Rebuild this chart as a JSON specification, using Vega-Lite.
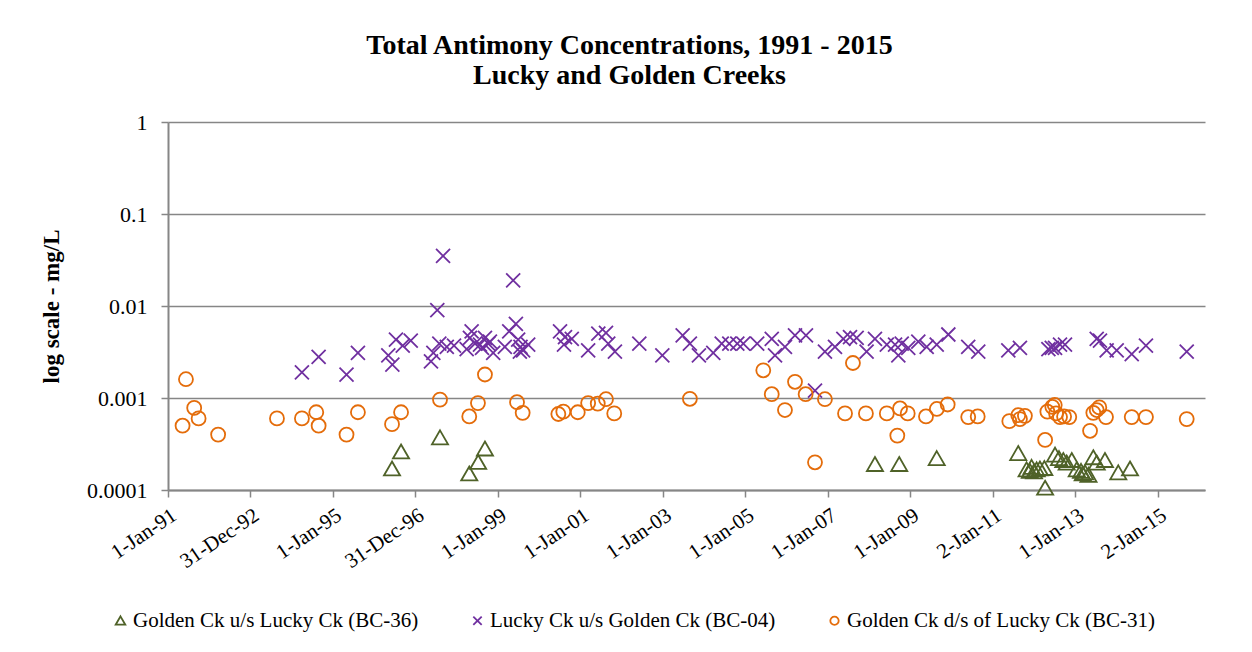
{
  "$schema": "https://vega.github.io/schema/vega-lite/v6.json",
  "autosize": {"type": "none"},
  "width": 1037,
  "height": 368,
  "padding": {"left": 168, "top": 122, "right": 47, "bottom": 162},
  "background": "white",
  "config": {"view": {"stroke": null}, "font": "Liberation Serif"},
  "title": {
    "text": ["Total Antimony Concentrations, 1991 - 2015", "Lucky and Golden Creeks"],
    "font": "Liberation Serif",
    "fontSize": 28,
    "fontWeight": "bold",
    "color": "black",
    "lineHeight": 30,
    "anchor": "middle",
    "frame": "group",
    "dx": -57,
    "offset": 21
  },
  "datasets": {
    "pts": [
      {"site": "Golden Ck u/s Lucky Ck (BC-36)", "date": "1996-06-07", "value": 0.00017},
      {"site": "Golden Ck u/s Lucky Ck (BC-36)", "date": "1996-08-26", "value": 0.00026},
      {"site": "Golden Ck u/s Lucky Ck (BC-36)", "date": "1997-08-06", "value": 0.00037},
      {"site": "Golden Ck u/s Lucky Ck (BC-36)", "date": "1998-04-22", "value": 0.00015},
      {"site": "Golden Ck u/s Lucky Ck (BC-36)", "date": "1998-07-10", "value": 0.0002},
      {"site": "Golden Ck u/s Lucky Ck (BC-36)", "date": "1998-09-08", "value": 0.00028},
      {"site": "Golden Ck u/s Lucky Ck (BC-36)", "date": "2008-02-22", "value": 0.00019},
      {"site": "Golden Ck u/s Lucky Ck (BC-36)", "date": "2008-09-24", "value": 0.00019},
      {"site": "Golden Ck u/s Lucky Ck (BC-36)", "date": "2009-08-22", "value": 0.00022},
      {"site": "Golden Ck u/s Lucky Ck (BC-36)", "date": "2011-08-14", "value": 0.00025},
      {"site": "Golden Ck u/s Lucky Ck (BC-36)", "date": "2011-10-27", "value": 0.000166},
      {"site": "Golden Ck u/s Lucky Ck (BC-36)", "date": "2011-11-25", "value": 0.00016},
      {"site": "Golden Ck u/s Lucky Ck (BC-36)", "date": "2011-12-10", "value": 0.000177},
      {"site": "Golden Ck u/s Lucky Ck (BC-36)", "date": "2012-01-01", "value": 0.000158},
      {"site": "Golden Ck u/s Lucky Ck (BC-36)", "date": "2012-01-24", "value": 0.000166},
      {"site": "Golden Ck u/s Lucky Ck (BC-36)", "date": "2012-02-22", "value": 0.00017},
      {"site": "Golden Ck u/s Lucky Ck (BC-36)", "date": "2012-04-01", "value": 0.000172},
      {"site": "Golden Ck u/s Lucky Ck (BC-36)", "date": "2012-04-08", "value": 0.000105},
      {"site": "Golden Ck u/s Lucky Ck (BC-36)", "date": "2012-07-05", "value": 0.00024},
      {"site": "Golden Ck u/s Lucky Ck (BC-36)", "date": "2012-08-09", "value": 0.00022},
      {"site": "Golden Ck u/s Lucky Ck (BC-36)", "date": "2012-09-16", "value": 0.00021},
      {"site": "Golden Ck u/s Lucky Ck (BC-36)", "date": "2012-10-16", "value": 0.000197},
      {"site": "Golden Ck u/s Lucky Ck (BC-36)", "date": "2012-11-30", "value": 0.00021},
      {"site": "Golden Ck u/s Lucky Ck (BC-36)", "date": "2013-01-13", "value": 0.000166},
      {"site": "Golden Ck u/s Lucky Ck (BC-36)", "date": "2013-02-20", "value": 0.00016},
      {"site": "Golden Ck u/s Lucky Ck (BC-36)", "date": "2013-03-07", "value": 0.00015},
      {"site": "Golden Ck u/s Lucky Ck (BC-36)", "date": "2013-03-28", "value": 0.000154},
      {"site": "Golden Ck u/s Lucky Ck (BC-36)", "date": "2013-04-27", "value": 0.000145},
      {"site": "Golden Ck u/s Lucky Ck (BC-36)", "date": "2013-06-09", "value": 0.000225},
      {"site": "Golden Ck u/s Lucky Ck (BC-36)", "date": "2013-07-09", "value": 0.000197},
      {"site": "Golden Ck u/s Lucky Ck (BC-36)", "date": "2013-09-20", "value": 0.00021},
      {"site": "Golden Ck u/s Lucky Ck (BC-36)", "date": "2014-01-16", "value": 0.000154},
      {"site": "Golden Ck u/s Lucky Ck (BC-36)", "date": "2014-04-30", "value": 0.00017},

      {"site": "Lucky Ck u/s Golden Ck (BC-04)", "date": "1994-04-01", "value": 0.0019},
      {"site": "Lucky Ck u/s Golden Ck (BC-04)", "date": "1994-08-27", "value": 0.0028},
      {"site": "Lucky Ck u/s Golden Ck (BC-04)", "date": "1995-05-01", "value": 0.0018},
      {"site": "Lucky Ck u/s Golden Ck (BC-04)", "date": "1995-08-10", "value": 0.0031},
      {"site": "Lucky Ck u/s Golden Ck (BC-04)", "date": "1996-05-05", "value": 0.0029},
      {"site": "Lucky Ck u/s Golden Ck (BC-04)", "date": "1996-06-10", "value": 0.0023},
      {"site": "Lucky Ck u/s Golden Ck (BC-04)", "date": "1996-07-12", "value": 0.0043},
      {"site": "Lucky Ck u/s Golden Ck (BC-04)", "date": "1996-09-10", "value": 0.0037},
      {"site": "Lucky Ck u/s Golden Ck (BC-04)", "date": "1996-11-20", "value": 0.0042},
      {"site": "Lucky Ck u/s Golden Ck (BC-04)", "date": "1997-05-18", "value": 0.0025},
      {"site": "Lucky Ck u/s Golden Ck (BC-04)", "date": "1997-06-08", "value": 0.0031},
      {"site": "Lucky Ck u/s Golden Ck (BC-04)", "date": "1997-07-13", "value": 0.009},
      {"site": "Lucky Ck u/s Golden Ck (BC-04)", "date": "1997-07-31", "value": 0.0039},
      {"site": "Lucky Ck u/s Golden Ck (BC-04)", "date": "1997-09-02", "value": 0.035},
      {"site": "Lucky Ck u/s Golden Ck (BC-04)", "date": "1997-10-05", "value": 0.0036},
      {"site": "Lucky Ck u/s Golden Ck (BC-04)", "date": "1997-12-08", "value": 0.0037},
      {"site": "Lucky Ck u/s Golden Ck (BC-04)", "date": "1998-03-30", "value": 0.0034},
      {"site": "Lucky Ck u/s Golden Ck (BC-04)", "date": "1998-04-28", "value": 0.0045},
      {"site": "Lucky Ck u/s Golden Ck (BC-04)", "date": "1998-05-13", "value": 0.0053},
      {"site": "Lucky Ck u/s Golden Ck (BC-04)", "date": "1998-06-12", "value": 0.0039},
      {"site": "Lucky Ck u/s Golden Ck (BC-04)", "date": "1998-07-26", "value": 0.0038},
      {"site": "Lucky Ck u/s Golden Ck (BC-04)", "date": "1998-08-13", "value": 0.0035},
      {"site": "Lucky Ck u/s Golden Ck (BC-04)", "date": "1998-09-08", "value": 0.0045},
      {"site": "Lucky Ck u/s Golden Ck (BC-04)", "date": "1998-10-07", "value": 0.0039},
      {"site": "Lucky Ck u/s Golden Ck (BC-04)", "date": "1998-10-22", "value": 0.0041},
      {"site": "Lucky Ck u/s Golden Ck (BC-04)", "date": "1998-11-20", "value": 0.0031},
      {"site": "Lucky Ck u/s Golden Ck (BC-04)", "date": "1999-03-03", "value": 0.0036},
      {"site": "Lucky Ck u/s Golden Ck (BC-04)", "date": "1999-04-11", "value": 0.0053},
      {"site": "Lucky Ck u/s Golden Ck (BC-04)", "date": "1999-05-16", "value": 0.019},
      {"site": "Lucky Ck u/s Golden Ck (BC-04)", "date": "1999-06-09", "value": 0.0064},
      {"site": "Lucky Ck u/s Golden Ck (BC-04)", "date": "1999-06-29", "value": 0.0043},
      {"site": "Lucky Ck u/s Golden Ck (BC-04)", "date": "1999-07-14", "value": 0.0032},
      {"site": "Lucky Ck u/s Golden Ck (BC-04)", "date": "1999-07-20", "value": 0.0036},
      {"site": "Lucky Ck u/s Golden Ck (BC-04)", "date": "1999-08-12", "value": 0.0033},
      {"site": "Lucky Ck u/s Golden Ck (BC-04)", "date": "1999-09-26", "value": 0.0038},
      {"site": "Lucky Ck u/s Golden Ck (BC-04)", "date": "2000-07-04", "value": 0.0053},
      {"site": "Lucky Ck u/s Golden Ck (BC-04)", "date": "2000-08-08", "value": 0.0038},
      {"site": "Lucky Ck u/s Golden Ck (BC-04)", "date": "2000-08-17", "value": 0.0046},
      {"site": "Lucky Ck u/s Golden Ck (BC-04)", "date": "2000-10-16", "value": 0.0044},
      {"site": "Lucky Ck u/s Golden Ck (BC-04)", "date": "2001-03-10", "value": 0.0033},
      {"site": "Lucky Ck u/s Golden Ck (BC-04)", "date": "2001-06-08", "value": 0.005},
      {"site": "Lucky Ck u/s Golden Ck (BC-04)", "date": "2001-08-15", "value": 0.0051},
      {"site": "Lucky Ck u/s Golden Ck (BC-04)", "date": "2001-09-04", "value": 0.0039},
      {"site": "Lucky Ck u/s Golden Ck (BC-04)", "date": "2001-11-02", "value": 0.0032},
      {"site": "Lucky Ck u/s Golden Ck (BC-04)", "date": "2002-06-06", "value": 0.0039},
      {"site": "Lucky Ck u/s Golden Ck (BC-04)", "date": "2002-12-27", "value": 0.0029},
      {"site": "Lucky Ck u/s Golden Ck (BC-04)", "date": "2003-06-25", "value": 0.0048},
      {"site": "Lucky Ck u/s Golden Ck (BC-04)", "date": "2003-08-28", "value": 0.0039},
      {"site": "Lucky Ck u/s Golden Ck (BC-04)", "date": "2003-11-16", "value": 0.0029},
      {"site": "Lucky Ck u/s Golden Ck (BC-04)", "date": "2004-03-22", "value": 0.0031},
      {"site": "Lucky Ck u/s Golden Ck (BC-04)", "date": "2004-06-05", "value": 0.0039},
      {"site": "Lucky Ck u/s Golden Ck (BC-04)", "date": "2004-08-11", "value": 0.0039},
      {"site": "Lucky Ck u/s Golden Ck (BC-04)", "date": "2004-10-21", "value": 0.0039},
      {"site": "Lucky Ck u/s Golden Ck (BC-04)", "date": "2004-12-13", "value": 0.0039},
      {"site": "Lucky Ck u/s Golden Ck (BC-04)", "date": "2005-04-15", "value": 0.0039},
      {"site": "Lucky Ck u/s Golden Ck (BC-04)", "date": "2005-08-22", "value": 0.0044},
      {"site": "Lucky Ck u/s Golden Ck (BC-04)", "date": "2005-09-20", "value": 0.0029},
      {"site": "Lucky Ck u/s Golden Ck (BC-04)", "date": "2005-12-17", "value": 0.0036},
      {"site": "Lucky Ck u/s Golden Ck (BC-04)", "date": "2006-03-16", "value": 0.0048},
      {"site": "Lucky Ck u/s Golden Ck (BC-04)", "date": "2006-06-21", "value": 0.0048},
      {"site": "Lucky Ck u/s Golden Ck (BC-04)", "date": "2006-09-09", "value": 0.0012},
      {"site": "Lucky Ck u/s Golden Ck (BC-04)", "date": "2006-12-06", "value": 0.0032},
      {"site": "Lucky Ck u/s Golden Ck (BC-04)", "date": "2007-03-05", "value": 0.0036},
      {"site": "Lucky Ck u/s Golden Ck (BC-04)", "date": "2007-05-18", "value": 0.0044},
      {"site": "Lucky Ck u/s Golden Ck (BC-04)", "date": "2007-07-16", "value": 0.0046},
      {"site": "Lucky Ck u/s Golden Ck (BC-04)", "date": "2007-09-13", "value": 0.0045},
      {"site": "Lucky Ck u/s Golden Ck (BC-04)", "date": "2007-12-10", "value": 0.0032},
      {"site": "Lucky Ck u/s Golden Ck (BC-04)", "date": "2008-02-22", "value": 0.0044},
      {"site": "Lucky Ck u/s Golden Ck (BC-04)", "date": "2008-06-06", "value": 0.0038},
      {"site": "Lucky Ck u/s Golden Ck (BC-04)", "date": "2008-08-18", "value": 0.0038},
      {"site": "Lucky Ck u/s Golden Ck (BC-04)", "date": "2008-09-16", "value": 0.0029},
      {"site": "Lucky Ck u/s Golden Ck (BC-04)", "date": "2008-10-16", "value": 0.0039},
      {"site": "Lucky Ck u/s Golden Ck (BC-04)", "date": "2008-12-13", "value": 0.0035},
      {"site": "Lucky Ck u/s Golden Ck (BC-04)", "date": "2009-03-12", "value": 0.0041},
      {"site": "Lucky Ck u/s Golden Ck (BC-04)", "date": "2009-05-25", "value": 0.0036},
      {"site": "Lucky Ck u/s Golden Ck (BC-04)", "date": "2009-08-22", "value": 0.0038},
      {"site": "Lucky Ck u/s Golden Ck (BC-04)", "date": "2009-12-03", "value": 0.0049},
      {"site": "Lucky Ck u/s Golden Ck (BC-04)", "date": "2010-05-28", "value": 0.0036},
      {"site": "Lucky Ck u/s Golden Ck (BC-04)", "date": "2010-08-25", "value": 0.0032},
      {"site": "Lucky Ck u/s Golden Ck (BC-04)", "date": "2011-05-18", "value": 0.0033},
      {"site": "Lucky Ck u/s Golden Ck (BC-04)", "date": "2011-08-29", "value": 0.0035},
      {"site": "Lucky Ck u/s Golden Ck (BC-04)", "date": "2012-05-07", "value": 0.0034},
      {"site": "Lucky Ck u/s Golden Ck (BC-04)", "date": "2012-06-06", "value": 0.0035},
      {"site": "Lucky Ck u/s Golden Ck (BC-04)", "date": "2012-07-05", "value": 0.0035},
      {"site": "Lucky Ck u/s Golden Ck (BC-04)", "date": "2012-08-18", "value": 0.0038},
      {"site": "Lucky Ck u/s Golden Ck (BC-04)", "date": "2012-10-01", "value": 0.0038},
      {"site": "Lucky Ck u/s Golden Ck (BC-04)", "date": "2013-07-09", "value": 0.0044},
      {"site": "Lucky Ck u/s Golden Ck (BC-04)", "date": "2013-08-07", "value": 0.0042},
      {"site": "Lucky Ck u/s Golden Ck (BC-04)", "date": "2013-10-05", "value": 0.0033},
      {"site": "Lucky Ck u/s Golden Ck (BC-04)", "date": "2014-01-02", "value": 0.0033},
      {"site": "Lucky Ck u/s Golden Ck (BC-04)", "date": "2014-05-15", "value": 0.003},
      {"site": "Lucky Ck u/s Golden Ck (BC-04)", "date": "2014-09-18", "value": 0.0037},
      {"site": "Lucky Ck u/s Golden Ck (BC-04)", "date": "2015-09-14", "value": 0.0032},

      {"site": "Golden Ck d/s of Lucky Ck (BC-31)", "date": "1991-05-10", "value": 0.0005},
      {"site": "Golden Ck d/s of Lucky Ck (BC-31)", "date": "1991-06-09", "value": 0.0016},
      {"site": "Golden Ck d/s of Lucky Ck (BC-31)", "date": "1991-08-21", "value": 0.00078},
      {"site": "Golden Ck d/s of Lucky Ck (BC-31)", "date": "1991-09-29", "value": 0.0006},
      {"site": "Golden Ck d/s of Lucky Ck (BC-31)", "date": "1992-03-20", "value": 0.0004},
      {"site": "Golden Ck d/s of Lucky Ck (BC-31)", "date": "1993-08-23", "value": 0.0006},
      {"site": "Golden Ck d/s of Lucky Ck (BC-31)", "date": "1994-04-01", "value": 0.0006},
      {"site": "Golden Ck d/s of Lucky Ck (BC-31)", "date": "1994-08-06", "value": 0.0007},
      {"site": "Golden Ck d/s of Lucky Ck (BC-31)", "date": "1994-08-27", "value": 0.0005},
      {"site": "Golden Ck d/s of Lucky Ck (BC-31)", "date": "1995-05-01", "value": 0.0004},
      {"site": "Golden Ck d/s of Lucky Ck (BC-31)", "date": "1995-08-10", "value": 0.0007},
      {"site": "Golden Ck d/s of Lucky Ck (BC-31)", "date": "1996-06-07", "value": 0.00052},
      {"site": "Golden Ck d/s of Lucky Ck (BC-31)", "date": "1996-08-26", "value": 0.0007},
      {"site": "Golden Ck d/s of Lucky Ck (BC-31)", "date": "1997-08-06", "value": 0.00096},
      {"site": "Golden Ck d/s of Lucky Ck (BC-31)", "date": "1998-04-22", "value": 0.00063},
      {"site": "Golden Ck d/s of Lucky Ck (BC-31)", "date": "1998-07-08", "value": 0.00088},
      {"site": "Golden Ck d/s of Lucky Ck (BC-31)", "date": "1998-09-08", "value": 0.0018},
      {"site": "Golden Ck d/s of Lucky Ck (BC-31)", "date": "1999-06-19", "value": 0.0009},
      {"site": "Golden Ck d/s of Lucky Ck (BC-31)", "date": "1999-08-08", "value": 0.00069},
      {"site": "Golden Ck d/s of Lucky Ck (BC-31)", "date": "2000-06-19", "value": 0.00067},
      {"site": "Golden Ck d/s of Lucky Ck (BC-31)", "date": "2000-08-02", "value": 0.00071},
      {"site": "Golden Ck d/s of Lucky Ck (BC-31)", "date": "2000-12-08", "value": 0.0007},
      {"site": "Golden Ck d/s of Lucky Ck (BC-31)", "date": "2001-03-10", "value": 0.00088},
      {"site": "Golden Ck d/s of Lucky Ck (BC-31)", "date": "2001-06-03", "value": 0.00087},
      {"site": "Golden Ck d/s of Lucky Ck (BC-31)", "date": "2001-08-15", "value": 0.00097},
      {"site": "Golden Ck d/s of Lucky Ck (BC-31)", "date": "2001-10-27", "value": 0.00068},
      {"site": "Golden Ck d/s of Lucky Ck (BC-31)", "date": "2003-08-28", "value": 0.00098},
      {"site": "Golden Ck d/s of Lucky Ck (BC-31)", "date": "2005-06-08", "value": 0.002},
      {"site": "Golden Ck d/s of Lucky Ck (BC-31)", "date": "2005-08-22", "value": 0.0011},
      {"site": "Golden Ck d/s of Lucky Ck (BC-31)", "date": "2005-12-17", "value": 0.00074},
      {"site": "Golden Ck d/s of Lucky Ck (BC-31)", "date": "2006-03-16", "value": 0.0015},
      {"site": "Golden Ck d/s of Lucky Ck (BC-31)", "date": "2006-06-18", "value": 0.0011},
      {"site": "Golden Ck d/s of Lucky Ck (BC-31)", "date": "2006-09-09", "value": 0.0002},
      {"site": "Golden Ck d/s of Lucky Ck (BC-31)", "date": "2006-12-06", "value": 0.00097},
      {"site": "Golden Ck d/s of Lucky Ck (BC-31)", "date": "2007-06-02", "value": 0.00068},
      {"site": "Golden Ck d/s of Lucky Ck (BC-31)", "date": "2007-08-11", "value": 0.0024},
      {"site": "Golden Ck d/s of Lucky Ck (BC-31)", "date": "2007-12-04", "value": 0.00068},
      {"site": "Golden Ck d/s of Lucky Ck (BC-31)", "date": "2008-06-06", "value": 0.00068},
      {"site": "Golden Ck d/s of Lucky Ck (BC-31)", "date": "2008-09-07", "value": 0.00039},
      {"site": "Golden Ck d/s of Lucky Ck (BC-31)", "date": "2008-10-01", "value": 0.00077},
      {"site": "Golden Ck d/s of Lucky Ck (BC-31)", "date": "2008-12-08", "value": 0.00068},
      {"site": "Golden Ck d/s of Lucky Ck (BC-31)", "date": "2009-05-19", "value": 0.00063},
      {"site": "Golden Ck d/s of Lucky Ck (BC-31)", "date": "2009-08-23", "value": 0.00076},
      {"site": "Golden Ck d/s of Lucky Ck (BC-31)", "date": "2009-11-27", "value": 0.00085},
      {"site": "Golden Ck d/s of Lucky Ck (BC-31)", "date": "2010-05-28", "value": 0.00062},
      {"site": "Golden Ck d/s of Lucky Ck (BC-31)", "date": "2010-08-20", "value": 0.00063},
      {"site": "Golden Ck d/s of Lucky Ck (BC-31)", "date": "2011-05-27", "value": 0.00056},
      {"site": "Golden Ck d/s of Lucky Ck (BC-31)", "date": "2011-08-14", "value": 0.00065},
      {"site": "Golden Ck d/s of Lucky Ck (BC-31)", "date": "2011-08-29", "value": 0.00059},
      {"site": "Golden Ck d/s of Lucky Ck (BC-31)", "date": "2011-10-12", "value": 0.00064},
      {"site": "Golden Ck d/s of Lucky Ck (BC-31)", "date": "2012-04-08", "value": 0.00035},
      {"site": "Golden Ck d/s of Lucky Ck (BC-31)", "date": "2012-04-28", "value": 0.00071},
      {"site": "Golden Ck d/s of Lucky Ck (BC-31)", "date": "2012-06-11", "value": 0.0008},
      {"site": "Golden Ck d/s of Lucky Ck (BC-31)", "date": "2012-07-02", "value": 0.00084},
      {"site": "Golden Ck d/s of Lucky Ck (BC-31)", "date": "2012-07-14", "value": 0.00068},
      {"site": "Golden Ck d/s of Lucky Ck (BC-31)", "date": "2012-08-18", "value": 0.00062},
      {"site": "Golden Ck d/s of Lucky Ck (BC-31)", "date": "2012-09-23", "value": 0.00063},
      {"site": "Golden Ck d/s of Lucky Ck (BC-31)", "date": "2012-11-08", "value": 0.00062},
      {"site": "Golden Ck d/s of Lucky Ck (BC-31)", "date": "2013-05-11", "value": 0.00044},
      {"site": "Golden Ck d/s of Lucky Ck (BC-31)", "date": "2013-06-09", "value": 0.00069},
      {"site": "Golden Ck d/s of Lucky Ck (BC-31)", "date": "2013-07-09", "value": 0.00074},
      {"site": "Golden Ck d/s of Lucky Ck (BC-31)", "date": "2013-08-01", "value": 0.00079},
      {"site": "Golden Ck d/s of Lucky Ck (BC-31)", "date": "2013-09-29", "value": 0.00062},
      {"site": "Golden Ck d/s of Lucky Ck (BC-31)", "date": "2014-05-15", "value": 0.00062},
      {"site": "Golden Ck d/s of Lucky Ck (BC-31)", "date": "2014-09-18", "value": 0.00062},
      {"site": "Golden Ck d/s of Lucky Ck (BC-31)", "date": "2015-09-14", "value": 0.00059}
    ]
  },
  "data": {"name": "pts"},
  "mark": {"type": "point", "filled": false, "strokeWidth": 1.8, "size": 196, "opacity": 1, "clip": false},
  "encoding": {
    "x": {
      "field": "date",
      "type": "temporal",
      "scale": {
        "type": "utc",
        "domain": [
          {"year": 1991, "month": 1, "date": 1, "utc": true},
          {"year": 2016, "month": 2, "date": 23, "utc": true}
        ]
      },
      "axis": {
        "title": null,
        "values": [
          {"year": 1991, "month": 1, "date": 1, "utc": true},
          {"year": 1992, "month": 12, "date": 31, "utc": true},
          {"year": 1995, "month": 1, "date": 1, "utc": true},
          {"year": 1996, "month": 12, "date": 31, "utc": true},
          {"year": 1999, "month": 1, "date": 1, "utc": true},
          {"year": 2001, "month": 1, "date": 1, "utc": true},
          {"year": 2003, "month": 1, "date": 1, "utc": true},
          {"year": 2005, "month": 1, "date": 1, "utc": true},
          {"year": 2007, "month": 1, "date": 1, "utc": true},
          {"year": 2009, "month": 1, "date": 1, "utc": true},
          {"year": 2011, "month": 1, "date": 2, "utc": true},
          {"year": 2013, "month": 1, "date": 1, "utc": true},
          {"year": 2015, "month": 1, "date": 2, "utc": true}
        ],
        "labelExpr": "utcFormat(datum.value, '%-d-%b-%y')",
        "labelAngle": -34,
        "labelAlign": "right",
        "labelBaseline": "top",
        "labelFont": "Liberation Serif",
        "labelFontSize": 21,
        "labelColor": "black",
        "labelPadding": 7,
        "labelOverlap": false,
        "labelFlush": false,
        "tickColor": "#868686",
        "tickSize": 7,
        "tickWidth": 1.5,
        "domainColor": "#868686",
        "domainWidth": 2,
        "grid": false
      }
    },
    "y": {
      "field": "value",
      "type": "quantitative",
      "scale": {"type": "log", "domain": [0.0001, 1]},
      "axis": {
        "title": "log scale - mg/L",
        "titleFont": "Liberation Serif",
        "titleFontSize": 23,
        "titleFontWeight": "bold",
        "titleColor": "black",
        "titlePadding": 23,
        "values": [0.0001, 0.001, 0.01, 0.1, 1],
        "format": "~g",
        "labelFont": "Liberation Serif",
        "labelFontSize": 22,
        "labelColor": "black",
        "labelPadding": 14,
        "labelFlush": false,
        "tickColor": "#868686",
        "tickSize": 7,
        "tickWidth": 1.5,
        "domainColor": "#868686",
        "domainWidth": 2,
        "grid": true,
        "gridColor": "#868686",
        "gridWidth": 1.6
      }
    },
    "color": {
      "field": "site",
      "type": "nominal",
      "scale": {
        "domain": ["Golden Ck u/s Lucky Ck (BC-36)", "Lucky Ck u/s Golden Ck (BC-04)", "Golden Ck d/s of Lucky Ck (BC-31)"],
        "range": ["#4F6228", "#7030A0", "#E46C0A"]
      },
      "legend": {
        "orient": "none",
        "direction": "horizontal",
        "legendX": -58,
        "legendY": 488,
        "title": null,
        "padding": 0,
        "labelFont": "Liberation Serif",
        "labelFontSize": 21,
        "labelColor": "black",
        "labelLimit": 0,
        "labelOffset": 2,
        "columnPadding": 48,
        "symbolSize": 70,
        "symbolStrokeWidth": 1.8
      }
    },
    "shape": {
      "field": "site",
      "type": "nominal",
      "scale": {
        "domain": ["Golden Ck u/s Lucky Ck (BC-36)", "Lucky Ck u/s Golden Ck (BC-04)", "Golden Ck d/s of Lucky Ck (BC-31)"],
        "range": ["M0,-1.05L1.15,0.95L-1.15,0.95Z", "M-1,-1L1,1M-1,1L1,-1", "circle"]
      },
      "legend": {
        "orient": "none",
        "direction": "horizontal",
        "legendX": -58,
        "legendY": 488,
        "title": null,
        "padding": 0,
        "labelFont": "Liberation Serif",
        "labelFontSize": 21,
        "labelColor": "black",
        "labelLimit": 0,
        "labelOffset": 2,
        "columnPadding": 48,
        "symbolSize": 70,
        "symbolStrokeWidth": 1.8
      }
    }
  }
}
